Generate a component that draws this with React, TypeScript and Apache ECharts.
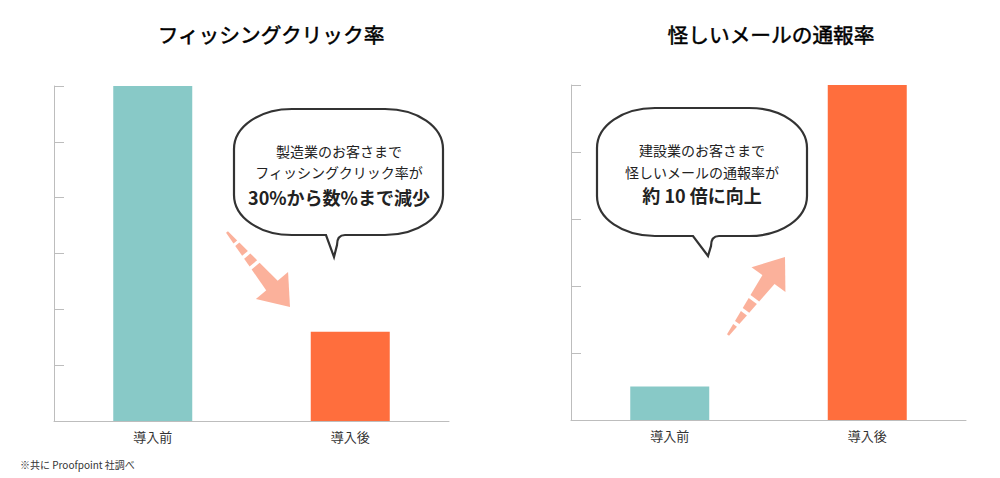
import { useEffect, useRef } from 'react';
import * as echarts from 'echarts';

// データ
const categories = ['導入前', '導入後'];
const clickRate = [30, 8];       // フィッシングクリック率 (%)
const reportRate = [1, 10];      // 怪しいメールの通報率 (相対値)
const titles = ['フィッシングクリック率', '怪しいメールの通報率'];
const bubbleLeft = ['製造業のお客さまで', 'フィッシングクリック率が', '30%から数%まで減少'];
const bubbleRight = ['建設業のお客さまで', '怪しいメールの通報率が', '約 10 倍に向上'];
const note = '※共に Proofpoint 社調べ';

const FONT = '"Noto Sans CJK JP", "Noto Sans", sans-serif';
const TEAL = '#88c9c7';
const ORANGE = '#ff6e3d';
const SALMON = '#fbb19b';
const AXIS = '#bdbdbd';

// 吹き出しの形 (ローカル座標)
function bubblePath(w: number, h: number, tailL: number, tipX: number, tipY: number, tailR: number) {
  const rx = 58;
  const ry = 40;
  const k = 0.56;
  return [
    `M ${rx} 0`,
    `L ${w - rx} 0`,
    `C ${w - rx + rx * k} 0 ${w} ${ry - ry * k} ${w} ${ry}`,
    `L ${w} ${h - ry}`,
    `C ${w} ${h - ry + ry * k} ${w - rx + rx * k} ${h} ${w - rx} ${h}`,
    `L ${tailR + 8} ${h}`,
    `Q ${tailR} ${h} ${tailR} ${h + 10}`,
    `L ${tipX} ${tipY}`,
    `L ${tailL} ${h}`,
    `L ${rx} ${h}`,
    `C ${rx - rx * k} ${h} 0 ${h - ry + ry * k} 0 ${h - ry}`,
    `L 0 ${ry}`,
    `C 0 ${ry - ry * k} ${rx - rx * k} 0 ${rx} 0`,
    'Z',
  ].join(' ');
}

echarts.graphic.registerShape('bubbleL', echarts.graphic.extendPath(bubblePath(209, 126, 92, 100, 148, 103), {}));
echarts.graphic.registerShape('bubbleR', echarts.graphic.extendPath(bubblePath(210, 128, 96, 111, 148, 114), {}));

// 点線の矢印
function arrowParts(
  x0: number, y0: number, x1: number, y1: number,
  gaps: [number, number][],
) {
  const headLen = 28;
  const headHalf = 21;
  const w0 = 2.5;
  const w1 = 15;
  const dx = x1 - x0;
  const dy = y1 - y0;
  const L = Math.sqrt(dx * dx + dy * dy);
  const ux = dx / L;
  const uy = dy / L;
  const nx = -uy;
  const ny = ux;
  const shaft = L - headLen;
  const pt = (t: number, s: number) => [x0 + ux * t + nx * s, y0 + uy * t + ny * s];
  const width = (t: number) => w0 + ((w1 - w0) * t) / shaft;

  const pieces: [number, number][] = [];
  let start = 0;
  gaps.forEach(([a, b]) => {
    pieces.push([start, a]);
    start = b;
  });
  pieces.push([start, shaft + 1]);

  const els: any[] = pieces.map(([a, b]) => ({
    type: 'polygon',
    shape: {
      points: [pt(a, -width(a) / 2), pt(b, -width(b) / 2), pt(b, width(b) / 2), pt(a, width(a) / 2)],
    },
    style: { fill: SALMON },
  }));
  els.push({
    type: 'polygon',
    shape: { points: [pt(shaft, -headHalf), pt(L, 0), pt(shaft, headHalf)] },
    style: { fill: SALMON },
  });
  return els;
}

function bubbleTexts(lines: string[], cx: number, ys: number[]) {
  return lines.map((t, i) => ({
    type: 'text',
    x: cx,
    y: ys[i],
    style: {
      text: t,
      fill: '#222',
      font: `${i === 2 ? 'bold 18px' : '14px'} ${FONT}`,
      textAlign: 'center',
      textVerticalAlign: 'middle',
    },
  }));
}

export default function App() {
  const chartRef = useRef<HTMLDivElement>(null);

  useEffect(() => {
    document.body.style.margin = '0';
    if (!chartRef.current) return;
    const chart = echarts.init(chartRef.current, undefined, { renderer: 'svg' });

    const xAxisBase = {
      type: 'category' as const,
      data: categories,
      axisLine: { lineStyle: { color: AXIS, width: 1 } },
      axisTick: { inside: true, length: 8, lineStyle: { color: AXIS } },
      axisLabel: { color: '#333', fontSize: 13, fontFamily: FONT, margin: 9 },
    };
    const yAxisBase = {
      type: 'value' as const,
      min: 0,
      axisLine: { show: true, lineStyle: { color: AXIS, width: 1 } },
      axisTick: { show: true, inside: true, length: 10, lineStyle: { color: AXIS } },
      axisLabel: { show: false },
      splitLine: { show: false },
    };

    const titleStyle = {
      fill: '#000',
      stroke: '#000',
      lineWidth: 0.5,
      font: `normal 20.7px ${FONT}`,
      textAlign: 'center',
      textVerticalAlign: 'middle',
    };

    chart.setOption({
      animation: false,
      backgroundColor: '#fff',
      textStyle: { fontFamily: FONT },
      grid: [
        { left: 54, top: 86, width: 395, height: 335 },
        { left: 571, top: 85, width: 395, height: 335 },
      ],
      xAxis: [
        { ...xAxisBase, gridIndex: 0 },
        { ...xAxisBase, gridIndex: 1 },
      ],
      yAxis: [
        { ...yAxisBase, gridIndex: 0, max: 30, interval: 5 },
        { ...yAxisBase, gridIndex: 1, max: 10, interval: 2 },
      ],
      series: [
        {
          type: 'bar',
          xAxisIndex: 0,
          yAxisIndex: 0,
          barWidth: '40%',
          data: clickRate.map((v, i) => ({ value: v, itemStyle: { color: i === 0 ? TEAL : ORANGE } })),
        },
        {
          type: 'bar',
          xAxisIndex: 1,
          yAxisIndex: 1,
          barWidth: '40%',
          data: reportRate.map((v, i) => ({ value: v, itemStyle: { color: i === 0 ? TEAL : ORANGE } })),
        },
      ],
      graphic: [
        { type: 'text', x: 271, y: 34, style: { ...titleStyle, text: titles[0] } },
        { type: 'text', x: 771, y: 34, style: { ...titleStyle, text: titles[1] } },
        ...arrowParts(227, 232, 290, 307, [[13, 16], [28, 31.5], [41, 44.5]]),
        ...arrowParts(728, 335, 785, 257, [[12, 15.5], [27, 30.5], [42, 45.5]]),
        {
          type: 'bubbleL',
          x: 234,
          y: 109,
          style: { fill: '#fff', stroke: '#333', lineWidth: 2.2 },
        },
        {
          type: 'bubbleR',
          x: 597,
          y: 108,
          style: { fill: '#fff', stroke: '#333', lineWidth: 2.2 },
        },
        ...bubbleTexts(bubbleLeft, 339, [151, 172, 197]),
        ...bubbleTexts(bubbleRight, 702, [150, 172, 195]),
        {
          type: 'text',
          x: 20,
          y: 464,
          style: { text: note, fill: '#333', font: `10px ${FONT}`, textAlign: 'left', textVerticalAlign: 'middle' },
        },
      ],
    });

    return () => {
      chart.dispose();
    };
  }, []);

  return <div ref={chartRef} style={{ width: 1000, height: 478 }} />;
}
